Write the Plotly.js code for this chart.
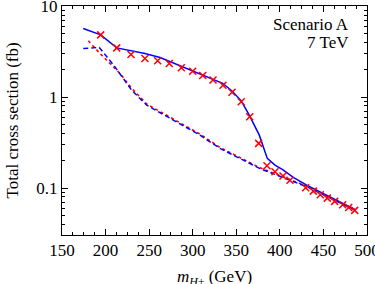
<!DOCTYPE html>
<html><head><meta charset="utf-8">
<script src="https://cdn.plot.ly/plotly-3.0.1.min.js"></script>
<style>html,body{margin:0;padding:0;background:#fff;}</style>
</head><body>
<div id="chart" style="width:375px;height:284px;"></div>
<script>
// Solid blue line
const solidMass = [174.4, 194.4, 212.8, 245.2, 262.5, 285.4, 312.2, 334.4, 345.1, 355.7, 364.9, 376.4, 385.6, 394.4, 403.2, 415.4, 430.8, 453.7, 486];
const solidXsec = [5.69, 4.84, 3.48, 3.02, 2.73, 2.23, 1.75, 1.42, 1.17, 0.91, 0.634, 0.382, 0.212, 0.179, 0.160, 0.131, 0.108, 0.0837, 0.0584];
// Dashed blue line
const dashMass = [174.4, 192.8, 210.8, 230, 247.2, 273.9, 308.4, 331.3, 377.2, 430.8, 484.3];
const dashXsec = [3.43, 3.52, 2.15, 1.19, 0.817, 0.583, 0.382, 0.273, 0.164, 0.1035, 0.0584];
// Dotted red line
const dotMass = [180.2, 193.6, 216.6, 230, 247.2, 273.9, 308.4, 331.3, 377.2, 430.8, 484.3];
const dotXsec = [4.16, 3.02, 1.82, 1.25, 0.84, 0.60, 0.392, 0.28, 0.167, 0.105, 0.0590];
// Red crosses
const crossMass = [194.4, 212.8, 229.2, 245.2, 259.8, 273.1, 286.9, 300.0, 311.5, 323.3, 334.7, 345.1, 355.7, 365.4, 375.7, 385.2, 394.4, 403.6, 411.6, 429.6, 438.4, 446.4, 454.4, 462.9, 472.1, 479.0, 485.9];
const crossXsec = [4.84, 3.48, 2.94, 2.66, 2.51, 2.34, 2.10, 1.93, 1.73, 1.54, 1.35, 1.13, 0.89, 0.61, 0.31, 0.176, 0.151, 0.136, 0.122, 0.101, 0.0926, 0.0844, 0.0776, 0.0714, 0.0655, 0.0613, 0.0569];

const xTickVals = [150, 200, 250, 300, 350, 400, 450, 500];
const yTickVals = [0.1, 1, 10];
const yTickText = ['0.1', '1', '10'];

const blue = '#0000ff';
const red = '#ff0000';
const serif = '"Liberation Serif", "DejaVu Serif", serif';

const traces = [
  {x: dotMass, y: dotXsec, mode: 'lines', line: {color: red, width: 1.6, dash: 'dot'}},
  {x: dashMass, y: dashXsec, mode: 'lines', line: {color: blue, width: 1.5, dash: '5px,3px'}},
  {x: solidMass, y: solidXsec, mode: 'lines', line: {color: blue, width: 1.5}},
  {x: crossMass, y: crossXsec, mode: 'markers',
   marker: {symbol: 'x-thin', size: 7, line: {color: red, width: 1.5}, color: red}}
];

const layout = {
  width: 375, height: 284,
  margin: {l: 62, r: 8, t: 6, b: 49},
  paper_bgcolor: '#fff', plot_bgcolor: '#fff',
  showlegend: false,
  font: {family: serif, size: 17, color: '#000'},
  xaxis: {
    range: [150, 500.01], tickvals: xTickVals, ticks: 'inside', ticklen: 6, tickwidth: 1,
    tickcolor: '#000', showgrid: false, zeroline: false,
    showline: true, linecolor: '#000', linewidth: 1, mirror: 'ticks',
    tickfont: {family: serif, size: 17}, ticklabeloverflow: 'allow',
    minor: {dtick: 12.5, ticks: 'inside', ticklen: 3, tickcolor: '#000', showgrid: false}
  },
  yaxis: {
    type: 'log', range: [Math.log10(0.0305), 1.002], tickvals: yTickVals, ticktext: yTickText,
    ticks: 'inside', ticklen: 6, tickwidth: 1, tickcolor: '#000',
    showgrid: false, zeroline: false, ticklabeloverflow: 'allow',
    showline: true, linecolor: '#000', linewidth: 1, mirror: 'ticks',
    tickfont: {family: serif, size: 17},
    minor: {tickvals: [0.04,0.05,0.06,0.07,0.08,0.09,0.2,0.3,0.4,0.5,0.6,0.7,0.8,0.9,2,3,4,5,6,7,8,9],
            ticks: 'inside', ticklen: 3, tickcolor: '#000', showgrid: false}
  },
  annotations: [
    {xref: 'paper', yref: 'paper', x: 0.944, y: 0.92, xanchor: 'right', yanchor: 'middle',
     borderpad: 0, showarrow: false, text: 'Scenario A', font: {family: serif, size: 17}},
    {xref: 'paper', yref: 'paper', x: 0.944, y: 0.84, xanchor: 'right', yanchor: 'middle',
     borderpad: 0, showarrow: false, text: '7 TeV', font: {family: serif, size: 17}},
    {xref: 'paper', yref: 'paper', x: 0.5, y: -0.188, xanchor: 'center', yanchor: 'middle',
     borderpad: 0, showarrow: false, text: '<i>m</i><sub><i>H</i>±</sub> (GeV)', font: {family: serif, size: 17}},
    {xref: 'paper', yref: 'paper', x: -0.161, y: 0.5, xanchor: 'center', yanchor: 'middle',
     borderpad: 0, showarrow: false, textangle: -90, text: 'Total cross section (fb)', font: {family: serif, size: 17}}
  ]
};

Plotly.newPlot('chart', traces, layout, {displayModeBar: false, staticPlot: true});
</script>
</body></html>
